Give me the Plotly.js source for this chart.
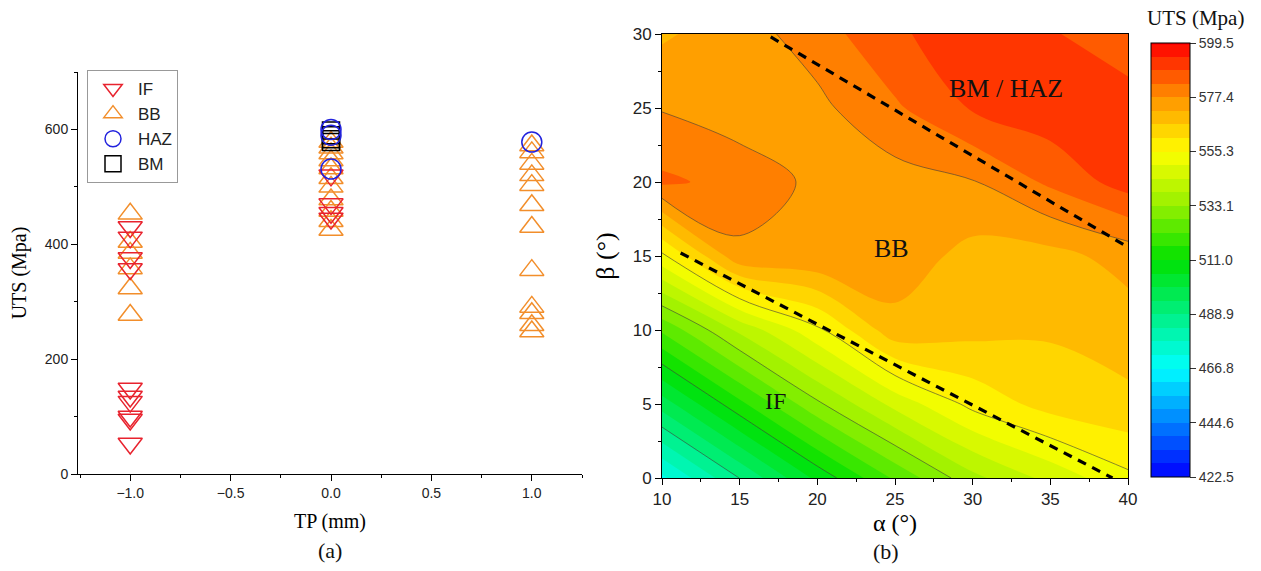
<!DOCTYPE html>
<html><head><meta charset="utf-8">
<script src="https://cdn.plot.ly/plotly-3.0.1.min.js"></script>
<style>html,body{margin:0;padding:0;background:#fff}</style>
</head><body><div id="chart" style="width:1261px;height:571px"></div>
<script>
// ---- (a) scatter data ----
const ifX  = [-1,-1,-1,-1,-1,-1,-1,-1,-1,-1, 0,0,0,0];
const ifY  = [430,412,376,357,149,135,126,100,95,53, 520,470,455,445];
const bbX  = [-1,-1,-1,-1,-1,-1, 0,0,0,0,0,0,0,0,0,0,0, 1,1,1,1,1,1,1,1,1,1,1,1];
const bbY  = [453,404,385,358,323,277, 578,568,558,546,532,515,500,478,458,440,425, 572,560,540,520,503,468,430,355,291,280,259,248];
const hazX = [0,0,0,1];
const hazY = [600,590,531,578];
const bmX  = [0,0,0,0];
const bmY  = [598,590,583,578];

// ---- (b) contour data ----
const alpha = [10,15,20,25,30,35,40];
const beta  = [0,5,10,15,20,25,30];
const uts = [
  [471,489,507,523,537,546,554],
  [497,515,532,546,557,563,565],
  [523,540,554,570,568,567,569],
  [554,576,577,575,570,570,574],
  [584,581,576,575,577,584,591],
  [577,574,576,582,589,592,591],
  [571,575,580,588,590,589,585]
];
const lowerBoundA = [11.2,39];
const lowerBoundB = [15.2,0];
const upperBoundA = [17,40];
const upperBoundB = [29.8,15.6];
const cbTicks = [599.5,577.4,555.3,533.1,511.0,488.9,466.8,444.6,422.5];

const serif = '"Liberation Serif", "Times New Roman", serif';
const sans = '"Liberation Sans", Arial, sans-serif';
const mk = (sym,col,size)=>({symbol:sym,size:size,color:col,line:{color:col,width:1.5}});

const data = [
 {type:'scatter',mode:'markers',name:'BB',x:bbX,y:bbY,legendrank:2,marker:mk('triangle-up-open','#f28e2b',21),xaxis:'x',yaxis:'y'},
 {type:'scatter',mode:'markers',name:'IF',x:ifX,y:ifY,legendrank:1,marker:mk('triangle-down-open','#e8232e',21),xaxis:'x',yaxis:'y'},
 {type:'scatter',mode:'markers',name:'BM',x:bmX,y:bmY,legendrank:4,marker:mk('square-open','#000000',17),xaxis:'x',yaxis:'y'},
 {type:'scatter',mode:'markers',name:'HAZ',x:hazX,y:hazY,legendrank:3,marker:mk('circle-open','#2222dd',20),xaxis:'x',yaxis:'y'},
 {type:'contour',x:alpha,y:beta,z:uts,xaxis:'x2',yaxis:'y2',showlegend:false,
  zmin:422.5,zmax:599.5,autocontour:false,
  contours:{start:422.5,end:599.5,size:22.125/4,coloring:'fill',showlines:false},
  line:{width:0},
  colorscale:[[0,'rgb(0,0,255)'],[0.125,'rgb(0,128,255)'],[0.25,'rgb(0,255,255)'],[0.375,'rgb(0,240,130)'],[0.5,'rgb(0,225,0)'],[0.625,'rgb(150,240,0)'],[0.75,'rgb(255,255,0)'],[0.875,'rgb(255,145,0)'],[1,'rgb(255,0,0)']],
  colorbar:{x:1151/1261,xanchor:'left',xpad:0,ypad:0,y:(571-260)/571,yanchor:'middle',len:434/571,lenmode:'fraction',thickness:39,thicknessmode:'pixels',
    outlinewidth:1,outlinecolor:'#000',tickvals:cbTicks,ticktext:cbTicks.map(v=>v.toFixed(1)),ticks:'outside',ticklen:6,tickcolor:'#333',
    tickfont:{family:sans,size:14,color:'#333'}}
 },
 {type:'contour',x:alpha,y:beta,z:uts,xaxis:'x2',yaxis:'y2',showlegend:false,showscale:false,autocontour:false,hoverinfo:'skip',
  contours:{start:444.625,end:577.375,size:22.125,coloring:'none'},
  line:{color:'rgba(60,60,60,0.75)',width:0.8}},
 {type:'scatter',mode:'lines',x:lowerBoundA,y:lowerBoundB,xaxis:'x2',yaxis:'y2',showlegend:false,line:{color:'#000',width:3.2,dash:'9px,7px'}},
 {type:'scatter',mode:'lines',x:upperBoundA,y:upperBoundB,xaxis:'x2',yaxis:'y2',showlegend:false,line:{color:'#000',width:3.2,dash:'9px,7px'}}
];

const axBase = {showline:true,linecolor:'#000',linewidth:1,ticks:'outside',ticklen:6,tickcolor:'#000',showgrid:false,zeroline:false};
const layout = {
 width:1261,height:571,margin:{l:0,r:0,t:0,b:0},paper_bgcolor:'#fff',plot_bgcolor:'#fff',
 font:{family:sans,color:'#000'},
 showlegend:true,
 legend:{x:87/1261,y:(571-70)/571,xanchor:'left',yanchor:'top',bgcolor:'#fff',bordercolor:'#999',borderwidth:1,itemwidth:40,font:{family:sans,size:17,color:'#222'},tracegroupgap:0},
 xaxis:Object.assign({},axBase,{domain:[78/1261,582/1261],range:[-1.26,1.25],tick0:-1,dtick:0.5,tickformat:'.1f',
   minor:{dtick:0.25,tick0:-1,ticks:'outside',ticklen:3,tickcolor:'#000'},
   tickfont:{family:sans,size:14,color:'#222'},title:{text:'TP (mm)',font:{family:serif,size:20},standoff:14},anchor:'y'}),
 yaxis:Object.assign({},axBase,{domain:[(571-474)/571,(571-72)/571],range:[0,700],dtick:200,
   minor:{dtick:100,ticks:'outside',ticklen:3,tickcolor:'#000'},
   tickfont:{family:sans,size:14,color:'#222'},title:{text:'UTS (Mpa)',font:{family:serif,size:20},standoff:12},anchor:'x'}),
 xaxis2:Object.assign({},axBase,{domain:[662/1261,1128/1261],range:[10,40],dtick:5,mirror:true,anchor:'y2',
   minor:{dtick:2.5,ticks:'outside',ticklen:3,tickcolor:'#000'},
   tickfont:{family:sans,size:17,color:'#222'},title:{text:'α (°)',font:{family:serif,size:24},standoff:5}}),
 yaxis2:Object.assign({},axBase,{domain:[(571-478)/571,(571-34)/571],range:[0,30],dtick:5,mirror:true,anchor:'x2',
   minor:{dtick:2.5,ticks:'outside',ticklen:3,tickcolor:'#000'},
   tickfont:{family:sans,size:17,color:'#222'},title:{text:'β (°)',font:{family:serif,size:26},standoff:10}}),
 annotations:[
  {xref:'x2',yref:'y2',x:32.15,y:26.35,text:'BM / HAZ',showarrow:false,font:{family:serif,size:26,color:'#111'}},
  {xref:'x2',yref:'y2',x:24.8,y:15.5,text:'BB',showarrow:false,font:{family:serif,size:26,color:'#111'}},
  {xref:'x2',yref:'y2',x:17.3,y:5.2,text:'IF',showarrow:false,font:{family:serif,size:24,color:'#111'}},
  {xref:'paper',yref:'paper',x:1195/1261,y:(571-18)/571,xanchor:'center',yanchor:'middle',text:'UTS (Mpa)',showarrow:false,font:{family:serif,size:21,color:'#111'}},
  {xref:'paper',yref:'paper',x:330/1261,y:(571-550)/571,xanchor:'center',yanchor:'middle',text:'(a)',showarrow:false,font:{family:serif,size:22,color:'#111'}},
  {xref:'paper',yref:'paper',x:886/1261,y:(571-551)/571,xanchor:'center',yanchor:'middle',text:'(b)',showarrow:false,font:{family:serif,size:22,color:'#111'}}
 ]
};
Plotly.newPlot('chart',data,layout,{displayModeBar:false,staticPlot:true});
</script></body></html>
